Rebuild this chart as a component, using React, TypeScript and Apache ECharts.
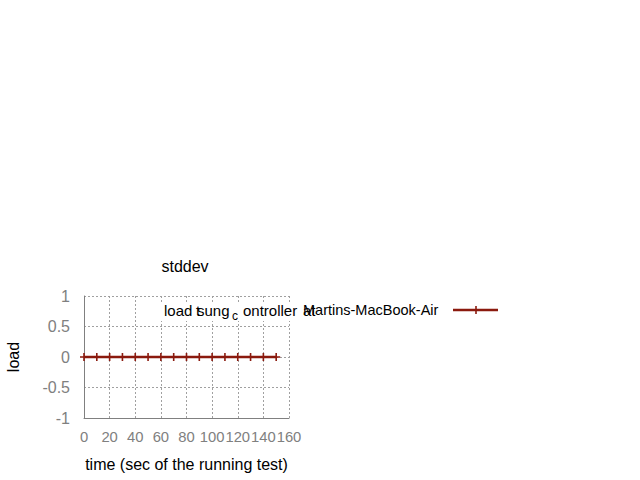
import React, { useEffect, useRef } from "react";
import * as echarts from "echarts";

const times = [0, 10, 20, 30, 40, 50, 60, 70, 80, 90, 100, 110, 120, 130, 140, 150];
const loadValues = [0, 0, 0, 0, 0, 0, 0, 0, 0, 0, 0, 0, 0, 0, 0, 0];
const titleText = "stddev";
const xName = "time (sec of the running test)";
const yName = "load";

const FONT = "'Liberation Sans', Arial, sans-serif";
const RED = "#8b1a0e";
const GRAY = "#808080";

export default function App() {
  const ref = useRef<HTMLDivElement>(null);
  useEffect(() => {
    if (!ref.current) return;
    const chart = echarts.init(ref.current, undefined, { renderer: "svg" });
    const plus = "path://M0,3.2L8,3.2L8,4.8L0,4.8Z M3.2,0L4.8,0L4.8,8L3.2,8Z";
    const legendY = 310;
    const lf = `15px ${FONT}`;
    chart.setOption({
      animation: false,
      backgroundColor: "#ffffff",
      textStyle: { fontFamily: FONT },
      title: {
        text: titleText,
        left: 180,
        top: 253,
        textAlign: "center",
        textStyle: { fontSize: 16, fontWeight: "normal", color: "#000", fontFamily: FONT },
      },
      grid: { left: 84, right: 351, top: 296, bottom: 62, containLabel: false },
      xAxis: {
        type: "value",
        min: 0,
        max: 160,
        interval: 20,
        name: xName,
        nameLocation: "middle",
        nameGap: 38,
        nameTextStyle: { fontSize: 16, color: "#000", fontFamily: FONT },
        axisLine: { show: true, onZero: false, lineStyle: { color: GRAY, width: 1 } },
        axisTick: { show: false },
        axisLabel: { fontSize: 14.8, color: GRAY, margin: 11, fontFamily: FONT, showMaxLabel: true, showMinLabel: true, hideOverlap: false, interval: 0 },
        splitLine: { show: true, lineStyle: { color: "#a0a0a0", type: [2, 2], width: 1 } },
      },
      yAxis: {
        type: "value",
        min: -1,
        max: 1,
        interval: 0.5,
        name: yName,
        nameLocation: "middle",
        nameGap: 63,
        nameRotate: 90,
        nameTextStyle: { fontSize: 16, color: "#000", fontFamily: FONT },
        axisLine: { show: true, lineStyle: { color: GRAY, width: 1 } },
        axisTick: { show: false },
        axisLabel: { fontSize: 16, color: GRAY, margin: 14, fontFamily: FONT, showMaxLabel: true, showMinLabel: true },
        splitLine: { show: true, lineStyle: { color: "#a0a0a0", type: [2, 2], width: 1 } },
      },
      series: [
        {
          type: "line",
          data: times.map((t, i) => [t, loadValues[i]]),
          symbol: plus,
          symbolSize: 8,
          showSymbol: true,
          itemStyle: { color: RED },
          lineStyle: { color: RED, width: 2.5 },
          z: 5,
        },
      ],
      graphic: [
        { type: "rect", shape: { x: 160, y: 302, width: 345, height: 19 }, style: { fill: "#fff" }, z: 10 },
        { type: "text", x: 164, y: legendY, style: { text: "load", font: lf, fill: "#000", verticalAlign: "middle" }, z: 11 },
        { type: "text", x: 196, y: legendY, style: { text: "t", font: lf, fill: "#000", verticalAlign: "middle" }, z: 11 },
        { type: "text", x: 197, y: legendY, style: { text: "sung", font: lf, fill: "#000", verticalAlign: "middle" }, z: 11 },
        { type: "text", x: 232, y: legendY + 6, style: { text: "c", font: `12px ${FONT}`, fill: "#000", verticalAlign: "middle" }, z: 11 },
        { type: "text", x: 243, y: legendY, style: { text: "ontroller", font: lf, fill: "#000", verticalAlign: "middle" }, z: 11 },
        { type: "text", x: 303, y: legendY, style: { text: "at", font: lf, fill: "#000", verticalAlign: "middle" }, z: 11 },
        { type: "text", x: 303, y: legendY, style: { text: "Martins-MacBook-Air", font: `14.5px ${FONT}`, fill: "#000", verticalAlign: "middle" }, z: 11 },
        { type: "line", shape: { x1: 453, y1: legendY, x2: 498, y2: legendY }, style: { stroke: RED, lineWidth: 2.5 }, z: 11 },
        { type: "line", shape: { x1: 476, y1: legendY - 4, x2: 476, y2: legendY + 4 }, style: { stroke: RED, lineWidth: 1.6 }, z: 11 },
      ],
    });
    return () => chart.dispose();
  }, []);
  return <div ref={ref} style={{ width: 640, height: 480, position: "absolute", left: 0, top: 0 }} />;
}
